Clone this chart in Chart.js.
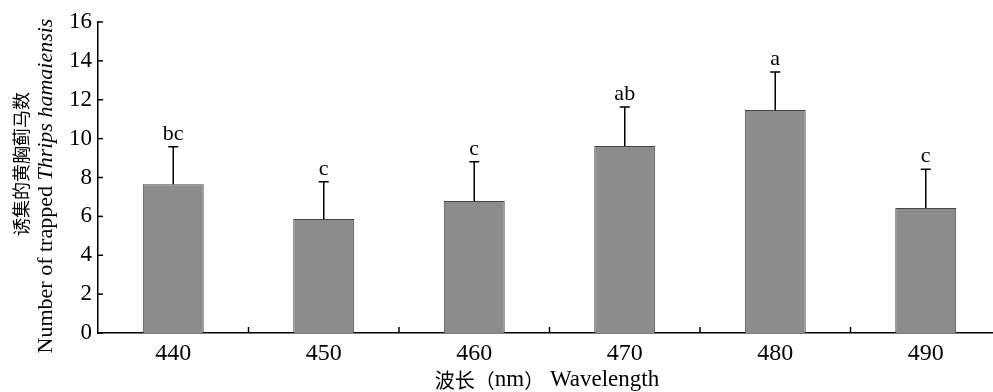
<!DOCTYPE html>
<html>
<head>
<meta charset="utf-8">
<script src="https://cdn.jsdelivr.net/npm/chart.js@4"></script>
<style>
  html, body { margin: 0; padding: 0; background: #fff; overflow: hidden; }
  #wrap { width: 1001px; height: 392px; }
</style>
</head>
<body>
<div id="wrap"><canvas id="chart"></canvas></div>
<script>
// data
const wavelengths = ['440', '450', '460', '470', '480', '490'];
const trapped = [7.65, 5.86, 6.79, 9.62, 11.47, 6.43];
const stdErr = [1.93, 1.92, 2.02, 2.01, 1.96, 1.99];
const letters = ['bc', 'c', 'c', 'ab', 'a', 'c'];
const yTicks = [0, 2, 4, 6, 8, 10, 12, 14, 16];

const serif = '"Liberation Serif", "Times New Roman", serif';
const cjk = '"Noto Sans CJK SC", sans-serif';

// draws a row of [text, font] pieces one after the other
function drawPieces(ctx, pieces, startX, y) {
    let px = startX;
    pieces.forEach(([t, f]) => {
        ctx.font = f;
        ctx.fillText(t, px, y);
        px += ctx.measureText(t).width;
    });
}
function piecesWidth(ctx, pieces) {
    return pieces.reduce((w, [t, f]) => { ctx.font = f; return w + ctx.measureText(t).width; }, 0);
}

// error bars, letters, inward ticks and axis titles
const extras = {
    id: 'extras',
    afterDatasetsDraw(chart) {
        const ctx = chart.ctx;
        const x = chart.scales.x;
        const y = chart.scales.y;
        const area = chart.chartArea;
        ctx.save();
        ctx.strokeStyle = '#000';
        ctx.fillStyle = '#000';
        ctx.lineWidth = 1.5;

        trapped.forEach((v, i) => {
            const px = x.getPixelForValue(i);
            const top = y.getPixelForValue(v + stdErr[i]);
            const base = y.getPixelForValue(v);
            ctx.beginPath();
            ctx.moveTo(px, base);
            ctx.lineTo(px, top);
            ctx.moveTo(px - 5, top);
            ctx.lineTo(px + 5, top);
            ctx.stroke();
            ctx.font = '22px ' + serif;
            ctx.textAlign = 'center';
            ctx.textBaseline = 'bottom';
            ctx.fillText(letters[i], px, top - 2);
        });

        // y ticks pointing into the plot
        yTicks.forEach(t => {
            const py = y.getPixelForValue(t);
            ctx.beginPath();
            ctx.moveTo(area.left, py);
            ctx.lineTo(area.left + 5, py);
            ctx.stroke();
        });
        // x ticks between categories, pointing up
        for (let i = 0; i < wavelengths.length - 1; i++) {
            const px = (x.getPixelForValue(i) + x.getPixelForValue(i + 1)) / 2;
            ctx.beginPath();
            ctx.moveTo(px, area.bottom);
            ctx.lineTo(px, area.bottom - 6);
            ctx.stroke();
        }

        // y title, rotated
        ctx.save();
        ctx.translate(21, 164);
        ctx.rotate(-Math.PI / 2);
        ctx.textAlign = 'center';
        ctx.textBaseline = 'middle';
        ctx.font = '18px ' + cjk;
        ctx.fillText('诱集的黄胸蓟马数', 0, 0);
        ctx.restore();

        ctx.save();
        ctx.translate(46, 186);
        ctx.rotate(-Math.PI / 2);
        ctx.textBaseline = 'middle';
        ctx.textAlign = 'left';
        const yPieces = [['Number of trapped ', '22px ' + serif], ['Thrips hamaiensis', 'italic 22px ' + serif]];
        drawPieces(ctx, yPieces, -piecesWidth(ctx, yPieces) / 2, 0);
        ctx.restore();

        // x title
        ctx.textBaseline = 'middle';
        ctx.textAlign = 'left';
        const xPieces = [
            ['波长（', '20px ' + cjk], ['nm', '23px ' + serif], ['）', '20px ' + cjk],
            [' Wavelength', '23px ' + serif]
        ];
        drawPieces(ctx, xPieces, 547 - piecesWidth(ctx, xPieces) / 2, 380);
        ctx.restore();
    }
};

new Chart(document.getElementById('chart'), {
    type: 'bar',
    data: {
        labels: wavelengths,
        datasets: [{
            data: trapped,
            backgroundColor: '#8c8c8c',
            borderColor: '#444',
            borderWidth: 1,
            barPercentage: 0.405,
            categoryPercentage: 1
        }]
    },
    options: {
        responsive: true,
        maintainAspectRatio: false,
        animation: false,
        layout: { padding: { top: 22, right: 0, left: 0, bottom: 0 } },
        plugins: {
            legend: { display: false },
            tooltip: { enabled: false }
        },
        scales: {
            x: {
                grid: { display: false, drawTicks: false },
                border: { color: '#000', width: 1.5 },
                ticks: { color: '#000', padding: 6, font: { family: serif, size: 24 } },
                afterFit: s => { s.height = 59; }
            },
            y: {
                min: 0,
                max: 16,
                grid: { display: false, drawTicks: false },
                border: { color: '#000', width: 1.5 },
                ticks: { stepSize: 2, color: '#000', padding: 6, font: { family: serif, size: 23 } },
                afterFit: s => { s.width = 98; }
            }
        }
    },
    plugins: [extras]
});
</script>
</body>
</html>
